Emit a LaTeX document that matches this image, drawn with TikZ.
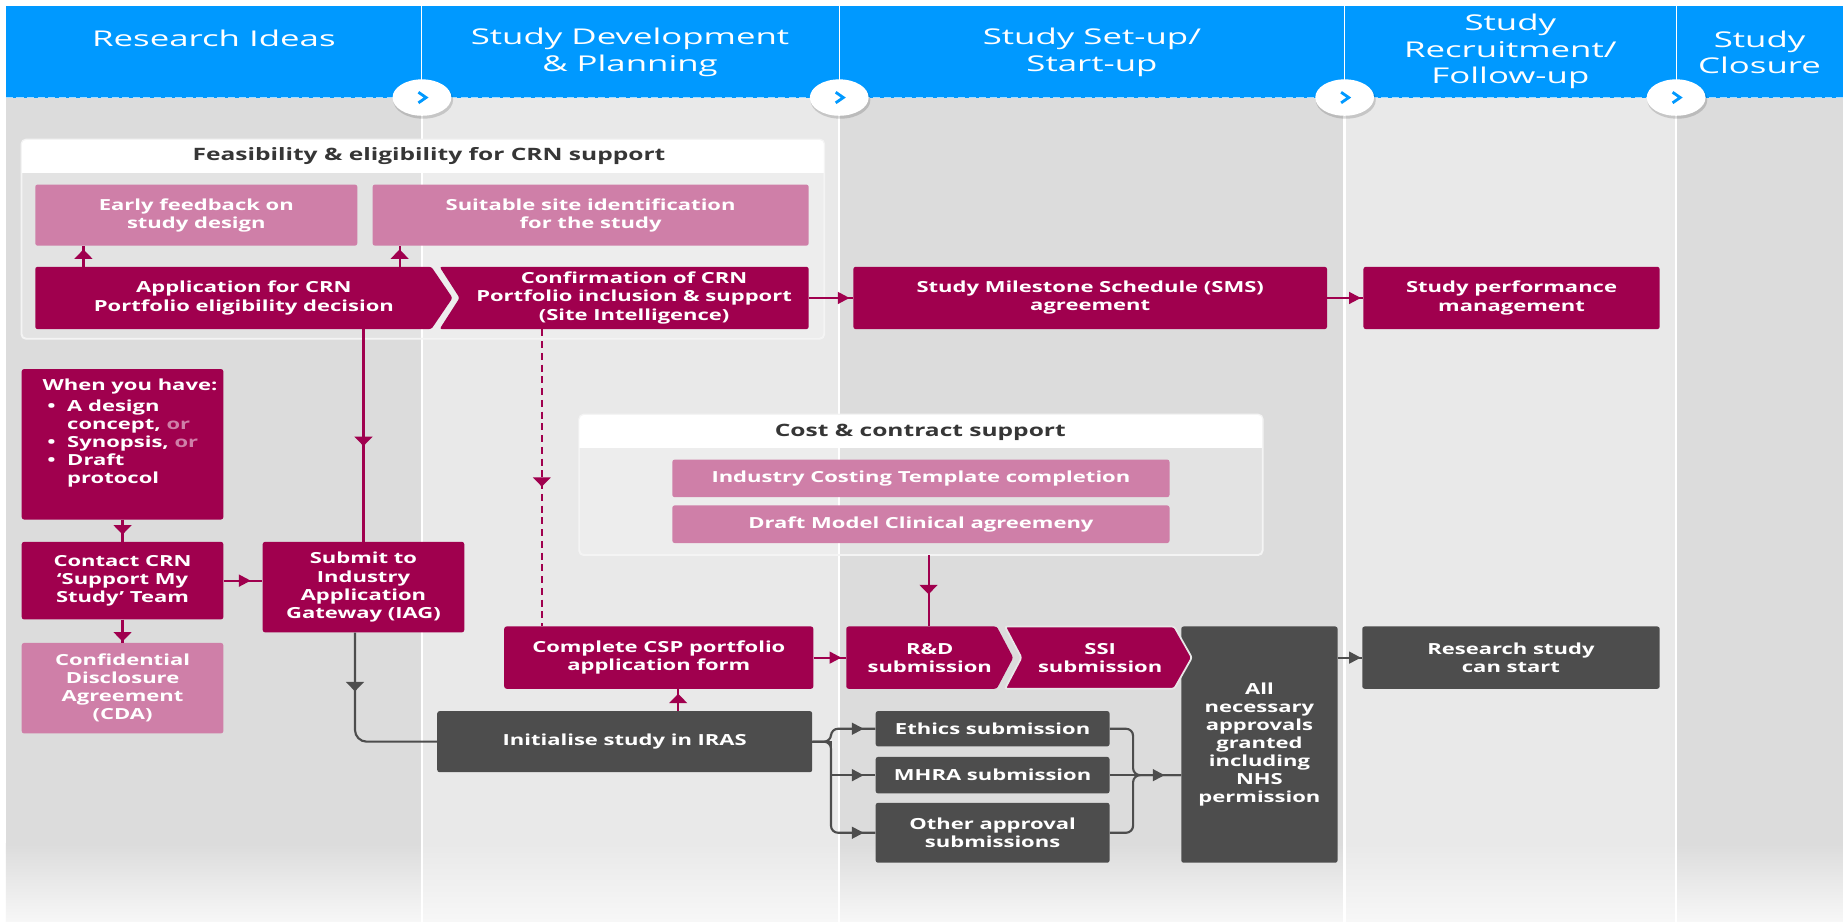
\documentclass[tikz,border=0pt]{standalone}
\usepackage{fontspec}
\setmainfont{Open Sans}
\newfontfamily\hdfont[FakeStretch=1.6]{Open Sans}
\newfontfamily\bxfont[FakeStretch=1.44]{Open Sans}
\usetikzlibrary{arrows.meta,decorations.markings}

\definecolor{hblue}{HTML}{0099FF}
\definecolor{mag}{HTML}{A0004E}
\definecolor{pinkc}{HTML}{CF7FA8}
\definecolor{dgray}{HTML}{4D4D4D}
\definecolor{bgA}{HTML}{DCDCDC}
\definecolor{bgB}{HTML}{E9E9E9}
\definecolor{ttl}{HTML}{363636}
\definecolor{fadeEnd}{HTML}{F7F7F7}
\definecolor{outl}{HTML}{F4F4F4}

\tikzset{
  box/.style={inner sep=0pt, align=center, text=white,
    font=\bxfont\bfseries\fontsize{13}{15.4}\selectfont, rounded corners=2pt},
  magbox/.style={box, fill=mag},
  pinkbox/.style={box, fill=pinkc},
  graybox/.style={box, fill=dgray},
  ghost/.style={box},
  hdr/.style={inner sep=0pt, align=center, text=white,
    font=\hdfont\fontsize{18.5}{22.5}\selectfont},
  ttlnode/.style={inner sep=0pt, text=ttl,
    font=\bxfont\bfseries\fontsize{14.5}{16}\selectfont},
  outer/.style={fill=white, fill opacity=0.22, draw=outl, line width=1pt, rounded corners=4pt},
  mline/.style={mag, line width=1.8pt},
  gline/.style={dgray, line width=1.8pt},
  arrH/.style={decoration={markings, mark=at position #1 with {\arrow{Triangle[length=10pt,width=10pt]}}}, postaction={decorate}},
  arrV/.style={decoration={markings, mark=at position #1 with {\arrow{Triangle[length=8pt,width=15pt]}}}, postaction={decorate}},
}

\newcommand\bxnode[7]{\node[#6, minimum width={(#4-#2)*1pt}, minimum height={(#5-#3)*1pt}] (#1) at ({(#2+#4)/2},{(#3+#5)/2}) {#7};}

\begin{document}
\begin{tikzpicture}[x=1pt,y=-1pt]
\useasboundingbox (0,0) rectangle (1568,784);
\fill[white] (0,0) rectangle (1568,784);
% column backgrounds
\fill[bgA] (5,83) rectangle (359,784);
\fill[bgB] (359,83) rectangle (714,784);
\fill[bgA] (714,83) rectangle (1144,784);
\fill[bgB] (1144,83) rectangle (1426,784);
\fill[bgA] (1426,83) rectangle (1568,784);
\shade[top color=bgA, bottom color=fadeEnd] (5,718) rectangle (359,784);
\shade[top color=bgB, bottom color=fadeEnd] (359,718) rectangle (714,784);
\shade[top color=bgA, bottom color=fadeEnd] (714,718) rectangle (1144,784);
\shade[top color=bgB, bottom color=fadeEnd] (1144,718) rectangle (1426,784);
\shade[top color=bgA, bottom color=fadeEnd] (1426,718) rectangle (1568,784);
% header band
\fill[hblue] (5,5) rectangle (1568,83);
\foreach \x in {359,714,1144,1426} {
  \draw[white, line width=0.8pt] (\x,5) -- (\x,83);
  \draw[white, line width=2pt] (\x,83) -- (\x,784);
}
\draw[hblue!35!white, line width=1.2pt, dash pattern=on 6pt off 3pt] (5,83) -- (1568,83);

\node[hdr] (h1) at (182,33) {Research Ideas};
\node[hdr] (h2) at (536,44.5) {Study Development\\\& Planning};
\node[hdr] (h3) at (929,44.5) {Study Set-up/\\Start-up};
\node[hdr] (h4) at (1285,44) {Study\\Recruitment/\\Follow-up};
\node[hdr] (h5) at (1497,44.5) {Study\\Closure};

\foreach \x in {359,714,1144,1426} {
  \fill[black, opacity=0.15] (\x+1,85) ellipse [x radius=25.5pt, y radius=16pt];
  \fill[white] (\x,83) ellipse [x radius=25pt, y radius=15.5pt];
  \draw[hblue, line width=2.4pt] (\x-3,78.5) -- (\x+3.5,83) -- (\x-3,87.5);
}

% Feasibility container
\bxnode{feas}{18.5}{119}{701}{288}{outer}{}
\begin{scope}
  \clip[rounded corners=4pt] (feas.north west) rectangle (feas.south east);
  \fill[white] (18.5,119) rectangle (701,147);
\end{scope}
\draw[outl, line width=1pt, rounded corners=4pt] (feas.north west) rectangle (feas.south east);
\node[ttlnode] (feasT) at (365,133) {Feasibility \& eligibility for CRN support};

\bxnode{early}{30}{157}{304}{209}{pinkbox}{Early feedback on\\study design}
\bxnode{suit}{317}{157}{688}{209}{pinkbox}{Suitable site identification\\for the study}

\fill[mag, rounded corners=2pt] (374,227) -- (688,227) -- (688,280) -- (374,280) -- (391,253.5) -- cycle;
\fill[mag, rounded corners=2pt] (30,227) -- (367,227) -- (385,253.5) -- (367,280) -- (30,280) -- cycle;
\bxnode{app}{30}{227}{385}{280}{ghost}{Application for CRN\\Portfolio eligibility decision}
\bxnode{conf}{391}{227}{688}{280}{ghost}{Confirmation of CRN\\Portfolio inclusion \& support\\(Site Intelligence)}

\bxnode{sms}{726}{227}{1129}{280}{magbox}{Study Milestone Schedule (SMS)\\agreement}
\bxnode{perf}{1160}{227}{1412}{280}{magbox}{Study performance\\management}

% left column
\bxnode{when}{18.5}{314}{190}{442}{magbox}{}
\node[inner sep=0pt, anchor=north west, align=left, text=white,
  font=\bxfont\bfseries\fontsize{13}{15.2}\selectfont] (whenT) at (36,322.5)
  {When you have:\\[2.5pt]
   \makebox[21pt][l]{\hspace{4pt}\textbullet}A design\\
   \hspace*{21pt}concept, {\color{pinkc}or}\\
   \makebox[21pt][l]{\hspace{4pt}\textbullet}Synopsis, {\color{pinkc}or}\\
   \makebox[21pt][l]{\hspace{4pt}\textbullet}Draft\\
   \hspace*{21pt}protocol};
\bxnode{contact}{18.5}{461}{190}{527}{magbox}{Contact CRN\\‘Support My\\Study’ Team}
\bxnode{sub}{223.5}{461}{395}{538}{magbox}{Submit to\\Industry\\Application\\Gateway (IAG)}
\bxnode{cda}{18.5}{547}{190}{624}{pinkbox}{Confidential\\Disclosure\\Agreement\\(CDA)}

% Cost container
\bxnode{cost}{493}{353}{1074}{472}{outer}{}
\begin{scope}
  \clip[rounded corners=4pt] (cost.north west) rectangle (cost.south east);
  \fill[white] (493,353) rectangle (1074,381);
\end{scope}
\draw[outl, line width=1pt, rounded corners=4pt] (cost.north west) rectangle (cost.south east);
\node[ttlnode] (costT) at (783,367.5) {Cost \& contract support};
\bxnode{ict}{572}{391}{995}{423}{pinkbox}{Industry Costing Template completion}
\bxnode{dmc}{572}{430}{995}{462}{pinkbox}{Draft Model Clinical agreemeny}

% lower row
\bxnode{csp}{429}{533}{692}{586}{magbox}{Complete CSP portfolio\\application form}
\fill[mag, rounded corners=2pt] (720,533) -- (848,533) -- (862,559.5) -- (848,586) -- (720,586) -- cycle;
\bxnode{rd}{720}{533}{862}{586}{ghost}{R\&D\\submission}
\bxnode{all}{1005}{533}{1138}{734}{graybox}{All\\necessary\\approvals\\granted\\including\\NHS\\permission}
\filldraw[fill=mag, draw=white!82!gray, line width=1.5pt, rounded corners=2pt] (855,533) -- (999,533) -- (1014,559.5) -- (999,586) -- (855,586) -- (869,559.5) -- cycle;
\bxnode{ssi}{860}{533}{1012}{586}{ghost}{SSI\\submission}
\bxnode{rs}{1159}{533}{1412}{586}{graybox}{Research study\\can start}

\bxnode{iras}{372}{605}{691}{657}{graybox}{Initialise study in IRAS}
\bxnode{eth}{745}{605}{944}{635}{graybox}{Ethics submission}
\bxnode{mhra}{745}{644}{944}{675}{graybox}{MHRA submission}
\bxnode{oth}{745}{683}{944}{734}{graybox}{Other approval\\submissions}

% guide coordinates
\coordinate (g71) at (71,0);
\coordinate (g340) at (340,0);
\coordinate (g461) at (461,0);
\coordinate (g302) at (302,0);
\coordinate (g577) at (577,0);
\coordinate (g790) at (790,0);
\coordinate (g707) at (707,0);
\coordinate (g964) at (964,0);

% connectors
\draw[mline, arrV=-3pt] (app.north -| g71) -- (early.south -| g71);
\draw[mline, arrV=-3pt] (app.north -| g340) -- (suit.south -| g340);
\draw[mline, arrH=-3pt] (conf.east) -- (sms.west);
\draw[mline, arrH=-2pt] (sms.east) -- (perf.west);
\draw[mline, arrV=0.55] (app.south -| sub.north) -- (sub.north);
\draw[mag, line width=1.8pt, dash pattern=on 6pt off 4pt, arrV=0.53] (conf.south -| g461) -- (csp.north -| g461);
\draw[mline, arrV=-6pt] (when.south) -- (contact.north);
\draw[mline, arrH=-10pt] (contact.east) -- (sub.west |- contact.east);
\draw[mline, arrV=-1pt] (contact.south) -- (cda.north);
\draw[gline, rounded corners=10pt, arrV=50pt] (sub.south -| g302) -- (g302 |- iras.west) -- (iras.west);
\draw[mline, arrV=-4pt] (iras.north -| g577) -- (csp.south -| g577);
\draw[mline, arrH=-4pt] (csp.east) -- (rd.west);
\draw[mline, arrV=0.55] (cost.south -| g790) -- (rd.north -| g790);
\draw[gline, arrH=-1pt] (all.east |- rs.west) -- (rs.west);

\draw[gline, rounded corners=6pt, arrH=-10pt] (iras.east) -- (g707 |- iras.east) -- (g707 |- eth.west) -- (eth.west);
\draw[gline, rounded corners=6pt, arrH=-10pt] (iras.east) -- (g707 |- iras.east) -- (g707 |- oth.west) -- (oth.west);
\draw[gline, arrH=-10pt] (iras.east) -- (g707 |- iras.east) -- (g707 |- mhra.west) -- (mhra.west);
\draw[gline, rounded corners=6pt] (eth.east) -- (g964 |- eth.east) -- (g964 |- mhra.east) -- (all.west |- mhra.east);
\draw[gline, rounded corners=6pt] (oth.east) -- (g964 |- oth.east) -- (g964 |- mhra.east) -- (all.west |- mhra.east);
\draw[gline, arrH=-14pt] (mhra.east) -- (all.west |- mhra.east);
\end{tikzpicture}
\end{document}
